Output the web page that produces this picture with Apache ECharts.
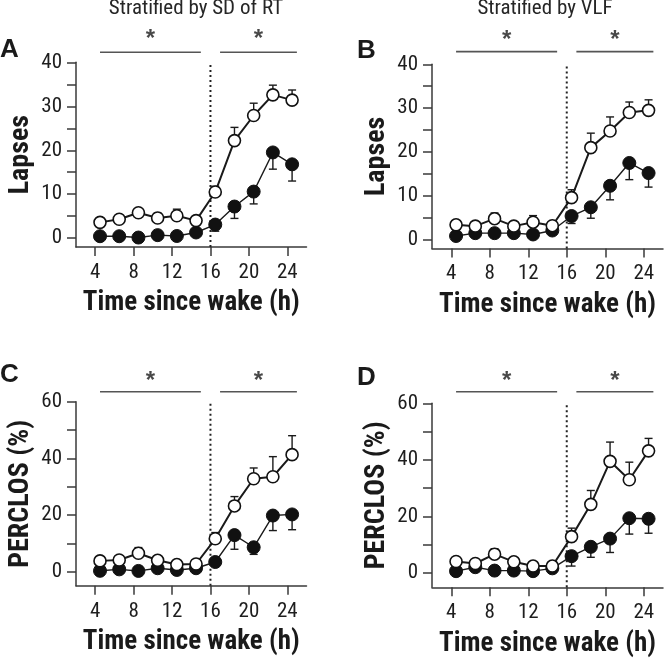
<!DOCTYPE html>
<html>
<head>
<meta charset="utf-8">
<script src="https://cdn.jsdelivr.net/npm/echarts@6/dist/echarts.min.js"></script>
<style>html,body{margin:0;padding:0;background:#fff}#c{width:664px;height:659px}</style>
</head>
<body>
<div id="c"></div>
<script>
// ---- data ----
const hours = [4.5, 6.5, 8.5, 10.5, 12.5, 14.5, 16.5, 18.5, 20.5, 22.5, 24.5];

const aOpen      = [3.6, 4.3, 5.8, 4.6, 5.1, 4.0, 10.5, 22.2, 27.9, 32.6, 31.4];
const aOpenErr   = [0.8, 0.8, 0.9, 1.1, 1.5, 0.8, 1.3, 3.0, 2.8, 2.2, 2.3];
const aClosed    = [0.45, 0.45, 0.15, 0.7, 0.5, 1.3, 3.1, 7.2, 10.6, 19.5, 16.8];
const aClosedErr = [0.3, 0.3, 0.3, 0.3, 0.3, 0.4, 1.5, 2.7, 2.8, 3.8, 3.8];

const bOpen      = [3.4, 3.1, 4.8, 3.1, 4.0, 3.2, 9.6, 21.0, 24.8, 29.0, 29.5];
const bOpenErr   = [0.6, 0.6, 1.3, 0.6, 1.5, 0.6, 1.8, 3.3, 3.2, 2.4, 2.4];
const bClosed    = [0.85, 1.5, 1.5, 1.5, 1.2, 2.1, 5.4, 7.4, 12.3, 17.5, 15.2];
const bClosedErr = [0.3, 0.3, 0.3, 0.3, 0.3, 0.3, 1.7, 2.5, 3.2, 3.8, 3.2];

const cOpen      = [3.8, 4.1, 6.5, 4.0, 2.5, 2.7, 11.6, 23.2, 32.8, 33.5, 41.3];
const cOpenErr   = [0.8, 0.8, 2.0, 0.8, 0.6, 0.5, 2.2, 3.3, 3.8, 7.1, 6.7];
const cClosed    = [0.3, 0.8, 0.25, 1.2, 0.6, 1.2, 3.4, 12.9, 8.6, 19.8, 20.2];
const cClosedErr = [0.3, 0.3, 0.3, 0.3, 0.3, 0.3, 0.5, 5.0, 2.5, 5.3, 5.4];

const dOpen      = [4.1, 3.4, 6.7, 4.0, 2.5, 2.5, 12.9, 24.3, 39.5, 33.0, 43.2];
const dOpenErr   = [0.8, 0.5, 1.9, 0.5, 0.5, 0.5, 3.0, 4.9, 6.8, 6.2, 4.4];
const dClosed    = [0.7, 2.1, 0.9, 0.9, 0.7, 1.7, 6.0, 9.3, 12.2, 19.4, 19.2];
const dClosedErr = [0.3, 0.5, 0.3, 0.3, 0.3, 0.3, 3.5, 3.7, 4.9, 5.6, 5.1];

const xTicks = [4, 8, 12, 16, 20, 24];
const lapsesLabels = [0, 10, 20, 30, 40];
const lapsesTicks = [0, 5, 10, 15, 20, 25, 30, 35, 40];
const perclosLabels = [0, 20, 40, 60];
const perclosTicks = [0, 10, 20, 30, 40, 50, 60];

const columnTitles = ['Stratified by SD of RT', 'Stratified by VLF'];
const panelLetters = ['A', 'B', 'C', 'D'];
const xName = 'Time since wake (h)';
const yNames = ['Lapses', 'Lapses', 'PERCLOS (%)', 'PERCLOS (%)'];

// significance bars: [start, end] ranges and heights
const sigRanges = [[4.5, 15], [17, 25]];
const sigLineY = [42.3, 42.9, 63.5, 64.1];
const sigStarY = [45.1, 45.5, 67.1, 67.6];
const wakeMark = 16;
const dottedTop = [39.5, 39.5, 59.5, 59.5];

// ---- layout ----
const NARROW = "'Roboto Condensed','Liberation Sans Narrow','Liberation Sans',Arial";
const SANS = "'Liberation Sans',Arial";
const grids = [
  {left: 76, top: 62.3, width: 230.5, height: 184.7},
  {left: 432, top: 64.3, width: 231, height: 184.2},
  {left: 76, top: 401.7, width: 230.5, height: 184.1},
  {left: 432, top: 403.3, width: 231, height: 184.0}
];
const yMin = [-2, -2, -5, -5];
const yMax = [40, 40, 60, 60];
const yLab = [lapsesLabels, lapsesLabels, perclosLabels, perclosLabels];
const yTk = [lapsesTicks, lapsesTicks, perclosTicks, perclosTicks];
const panels = [
  [aOpen, aOpenErr, aClosed, aClosedErr],
  [bOpen, bOpenErr, bClosed, bClosedErr],
  [cOpen, cOpenErr, cClosed, cClosedErr],
  [dOpen, dOpenErr, dClosed, dClosedErr]
];

const INK = '#1a1a1a';
const AX = '#3a3a3a';
const LAB = '#1e1e1e';

function errSeries(i, vals, errs, dir, color) {
  return {
    type: 'custom', xAxisIndex: i, yAxisIndex: i, z: 1, silent: true,
    encode: {x: 0, y: 1},
    data: hours.map((h, k) => [h, vals[k], errs[k]]),
    renderItem: function (params, api) {
      const x = api.value(0), y = api.value(1), e = api.value(2);
      const p0 = api.coord([x, y]);
      const p1 = api.coord([x, y + dir * e]);
      const st = {stroke: color, lineWidth: 1.4};
      return {type: 'group', children: [
        {type: 'line', shape: {x1: p0[0], y1: p0[1], x2: p1[0], y2: p1[1]}, style: st},
        {type: 'line', shape: {x1: p1[0] - 4, y1: p1[1], x2: p1[0] + 4, y2: p1[1]}, style: st}
      ]};
    }
  };
}

const option = {
  animation: false,
  backgroundColor: '#fff',
  grid: grids.map(g => Object.assign({outerBoundsMode: 'none', containLabel: false}, g)),
  xAxis: grids.map((g, i) => ({
    type: 'value', gridIndex: i, min: 2, max: 26,
    name: xName, nameLocation: 'middle', nameGap: 43,
    nameTextStyle: {fontFamily: NARROW, fontWeight: 'bold', fontSize: 27, color: INK},
    axisLine: {onZero: false, lineStyle: {color: AX, width: 1.5}},
    axisTick: {show: true, length: 9, customValues: xTicks, lineStyle: {color: AX, width: 1.5}},
    axisLabel: {customValues: xTicks, margin: 15, fontFamily: NARROW, fontSize: 21, color: LAB},
    splitLine: {show: false}
  })),
  yAxis: grids.map((g, i) => ({
    type: 'value', gridIndex: i, min: yMin[i], max: yMax[i],
    name: yNames[i], nameLocation: 'middle', nameGap: 41,
    nameTextStyle: {fontFamily: NARROW, fontWeight: 'bold', fontSize: 28, color: INK},
    axisLine: {show: true, lineStyle: {color: AX, width: 1.5}},
    axisTick: {show: true, length: 9, customValues: yTk[i], lineStyle: {color: AX, width: 1.5}},
    axisLabel: {customValues: yLab[i], margin: 14, fontFamily: NARROW, fontSize: 21, color: LAB},
    splitLine: {show: false}
  })),
  graphic: [
    {type: 'text', x: 196, y: -2, style: {text: columnTitles[0], align: 'center', verticalAlign: 'top', font: '21px ' + NARROW, fill: '#262626'}},
    {type: 'text', x: 545, y: -2, style: {text: columnTitles[1], align: 'center', verticalAlign: 'top', font: '21px ' + NARROW, fill: '#262626'}},
    {type: 'text', x: 0, y: 37, style: {text: panelLetters[0], font: 'bold 26px ' + SANS, fill: INK}},
    {type: 'text', x: 357, y: 38, style: {text: panelLetters[1], font: 'bold 26px ' + SANS, fill: INK}},
    {type: 'text', x: 0, y: 362, style: {text: panelLetters[2], font: 'bold 26px ' + SANS, fill: INK}},
    {type: 'text', x: 357, y: 365, style: {text: panelLetters[3], font: 'bold 26px ' + SANS, fill: INK}}
  ],
  series: []
};

panels.forEach((p, i) => {
  const [op, opE, cl, clE] = p;
  option.series.push(errSeries(i, op, opE, 1, INK));
  option.series.push(errSeries(i, cl, clE, -1, INK));
  // dotted wake line
  option.series.push({
    type: 'line', xAxisIndex: i, yAxisIndex: i, z: 0, silent: true, symbol: 'none',
    data: [[wakeMark, yMin[i]], [wakeMark, dottedTop[i]]],
    lineStyle: {color: '#222', width: 2, type: [2, 3]}
  });
  // closed series
  option.series.push({
    type: 'line', xAxisIndex: i, yAxisIndex: i, z: 2,
    data: hours.map((h, k) => [h, cl[k]]),
    symbol: 'circle', symbolSize: 13,
    itemStyle: {color: '#111', borderColor: '#111', borderWidth: 1},
    lineStyle: {color: INK, width: 1.4}
  });
  // open series
  option.series.push({
    type: 'line', xAxisIndex: i, yAxisIndex: i, z: 3,
    data: hours.map((h, k) => [h, op[k]]),
    symbol: 'circle', symbolSize: 12,
    itemStyle: {color: '#fff', borderColor: '#111', borderWidth: 1.6},
    lineStyle: {color: INK, width: 2}
  });
  // significance bars
  sigRanges.forEach(r => {
    option.series.push({
      type: 'line', xAxisIndex: i, yAxisIndex: i, clip: false, silent: true, symbol: 'none',
      data: [[r[0], sigLineY[i]], [r[1], sigLineY[i]]],
      lineStyle: {color: '#555', width: 1.6}
    });
  });
  option.series.push({
    type: 'scatter', xAxisIndex: i, yAxisIndex: i, clip: false, silent: true,
    symbolSize: 1, itemStyle: {color: 'rgba(0,0,0,0)'},
    data: sigRanges.map(r => [(r[0] + r[1]) / 2, sigStarY[i]]),
    label: {show: true, position: 'inside', formatter: '*', fontFamily: SANS, fontWeight: 'bold', fontSize: 24, color: INK}
  });
});

const chart = echarts.init(document.getElementById('c'), null, {renderer: 'canvas'});
chart.setOption(option);
</script>
</body>
</html>
